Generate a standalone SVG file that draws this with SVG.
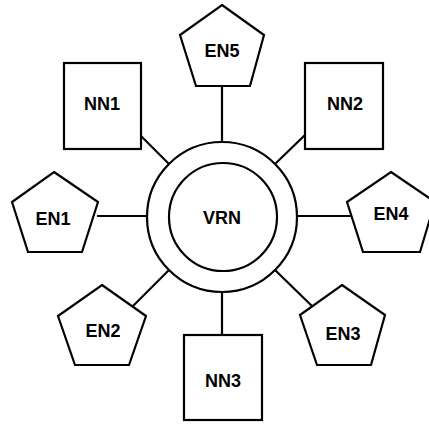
<svg xmlns="http://www.w3.org/2000/svg" width="429" height="425" viewBox="0 0 429 425">
<style>
.s{fill:#fff;stroke:#000;stroke-width:2.2}
.l{stroke:#000;stroke-width:2.2;fill:none}
text{font-family:"Liberation Sans",Arial,sans-serif;font-weight:bold;font-size:18px;text-anchor:middle;fill:#000}
</style>
<rect width="429" height="425" fill="#fff"/>
<g id="connectors">
<line class="l" x1="222" y1="86" x2="222" y2="142"/>
<line class="l" x1="97" y1="216" x2="147" y2="216"/>
<line class="l" x1="297" y1="216" x2="352" y2="216"/>
<line class="l" x1="169" y1="270" x2="133" y2="306"/>
<line class="l" x1="275" y1="270" x2="313" y2="307"/>
<line class="l" x1="222" y1="292" x2="222" y2="335"/>
<line class="l" x1="169" y1="164" x2="141" y2="136"/>
<line class="l" x1="275" y1="164" x2="305" y2="135"/>
</g>
<g id="VRN">
<circle class="s" cx="222" cy="217" r="75"/>
<circle class="s" cx="223" cy="217" r="54"/>
<text x="222" y="224">VRN</text>
</g>
<g id="EN5">
<polygon class="s" points="222,5 264,35 250,86 196,86 180,35"/>
<text x="222" y="57">EN5</text>
</g>
<g id="EN1">
<polygon class="s" points="54,172 98,202 82,252 28,252 12,202"/>
<text x="53" y="225">EN1</text>
</g>
<g id="EN4">
<polygon class="s" points="391,172 435,202 420,252 363,252 347,202"/>
<text x="391" y="220">EN4</text>
</g>
<g id="EN2">
<polygon class="s" points="102,285 146,316 129,365 75,365 58,316"/>
<text x="103" y="337">EN2</text>
</g>
<g id="EN3">
<polygon class="s" points="342,285 385,315 371,365 317,365 300,315"/>
<text x="343" y="340">EN3</text>
</g>
<g id="NN1">
<rect class="s" x="64" y="63" width="77" height="86"/>
<text x="102" y="110">NN1</text>
</g>
<g id="NN2">
<rect class="s" x="305" y="63" width="78" height="86"/>
<text x="345" y="110">NN2</text>
</g>
<g id="NN3">
<rect class="s" x="184" y="335" width="78" height="85"/>
<text x="223" y="387">NN3</text>
</g>
</svg>
